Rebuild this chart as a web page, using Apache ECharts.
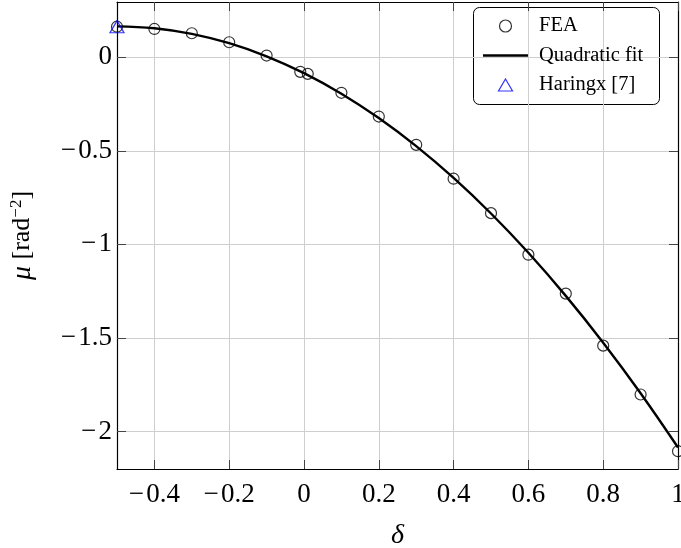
<!DOCTYPE html>
<html>
<head>
<meta charset="utf-8">
<script src="https://cdn.jsdelivr.net/npm/echarts@6/dist/echarts.min.js"></script>
<style>
  html, body { margin: 0; padding: 0; background: #fff; }
  #chart { width: 681px; height: 548px; }
</style>
</head>
<body>
<div id="chart"></div>
<script>
// FEA points
const feaX = [-0.5, -0.4, -0.3, -0.2, -0.1, -0.01, 0.01, 0.1, 0.2, 0.3, 0.4, 0.5, 0.6, 0.7, 0.8, 0.9, 1.0]
const feaMu = [0.163, 0.151, 0.128, 0.080, 0.009, -0.078, -0.089, -0.190, -0.317, -0.468, -0.649, -0.833, -1.055, -1.263, -1.541, -1.802, -2.105]

// quadratic fit
const fitX = [-0.5, -0.4, -0.3, -0.2, -0.1, 0, 0.1, 0.2, 0.3, 0.4, 0.5, 0.6, 0.7, 0.8, 0.9, 1.0]
const fitMu = [0.165, 0.155, 0.125, 0.075, 0.005, -0.085, -0.195, -0.325, -0.475, -0.645, -0.835, -1.045, -1.275, -1.525, -1.795, -2.085]

// Haringx [7]
const harX = [-0.5]
const harMu = [0.163]

const xTicks = [-0.4, -0.2, 0, 0.2, 0.4, 0.6, 0.8, 1]
const yTicks = [-2, -1.5, -1, -0.5, 0]

const serif = '"Liberation Serif", "DejaVu Serif", serif'
const fmt = (v) => v < 0 ? '\u2212\u200a' + String(-v) : String(v)

const zip = (xs, ys) => xs.map((x, i) => [x, ys[i]])

var chart = echarts.init(document.getElementById('chart'))

const tick = { show: true, inside: true, length: 9, lineStyle: { color: '#444', width: 1 } }
const frame = { show: true, onZero: false, lineStyle: { color: '#000', width: 1.2 } }

var option = {
  animation: false,
  grid: { left: 117, right: 3, top: 2, bottom: 79, outerBoundsMode: 'none', containLabel: false },
  xAxis: [
    {
      type: 'value', min: -0.5, max: 1, position: 'bottom',
      axisLine: frame,
      axisTick: Object.assign({ customValues: xTicks }, tick),
      splitLine: { show: true, lineStyle: { color: '#cfcfcf', width: 1 } },
      axisLabel: { customValues: xTicks, formatter: fmt, margin: 12, color: '#000', fontFamily: serif, fontSize: 27 },
      name: 'δ', nameLocation: 'middle', nameGap: 53,
      nameTextStyle: { fontFamily: serif, fontStyle: 'italic', fontSize: 28, color: '#000' }
    },
    {
      type: 'value', min: -0.5, max: 1, position: 'top',
      axisLine: frame,
      axisTick: Object.assign({ customValues: xTicks }, tick),
      axisLabel: { show: false }, splitLine: { show: false }
    }
  ],
  yAxis: [
    {
      type: 'value', min: -2.2, max: 0.295, position: 'left',
      axisLine: frame,
      axisTick: Object.assign({ customValues: yTicks }, tick),
      splitLine: { show: true, lineStyle: { color: '#cfcfcf', width: 1 } },
      axisLabel: { customValues: yTicks, formatter: fmt, margin: 5, color: '#000', fontFamily: serif, fontSize: 27 },
      name: '{i|μ} [rad{s|\u22122}]', nameLocation: 'middle', nameGap: 80,
      nameTextStyle: {
        fontFamily: serif, fontSize: 26, color: '#000',
        rich: {
          i: { fontFamily: serif, fontStyle: 'italic', fontSize: 28, color: '#000' },
          s: { fontFamily: serif, fontSize: 17, color: '#000', verticalAlign: 'top', padding: [0, 0, 12, 0] }
        }
      }
    },
    {
      type: 'value', min: -2.2, max: 0.295, position: 'right',
      axisLine: frame,
      axisTick: Object.assign({ customValues: yTicks }, tick),
      axisLabel: { show: false }, splitLine: { show: false }
    }
  ],
  legend: {
    orient: 'vertical', left: 483, top: 15, padding: 0,
    itemWidth: 45, itemHeight: 12, itemGap: 7.5,
    textStyle: { fontFamily: serif, fontSize: 20.5, lineHeight: 22, color: '#000', padding: [0, 0, 0, 6] },
    data: [
      { name: 'FEA', icon: 'circle', itemStyle: { color: 'transparent', borderColor: '#000', borderWidth: 1.2 } },
      { name: 'Quadratic fit', icon: 'path://M0,0 H45 V2.4 H0 Z', itemStyle: { color: '#000', borderWidth: 0 } },
      { name: 'Haringx [7]', icon: 'path://M7,0 L14,12 L0,12 Z', itemStyle: { color: 'transparent', borderColor: '#0000ff', borderWidth: 1.2 } }
    ]
  },
  graphic: [
    {
      type: 'rect', left: 473, top: 7, z: 0,
      shape: { width: 186, height: 97, r: 6 },
      style: { fill: '#fff', stroke: '#000', lineWidth: 1 }
    }
  ],
  series: [
    {
      name: 'FEA', type: 'scatter', data: zip(feaX, feaMu),
      symbol: 'circle', symbolSize: 11, clip: false,
      itemStyle: { color: 'transparent', borderColor: '#000', borderWidth: 1.2 },
      z: 2
    },
    {
      name: 'Quadratic fit', type: 'line', data: zip(fitX, fitMu),
      smooth: 0.4, symbol: 'none', showSymbol: false, color: '#000',
      lineStyle: { color: '#000', width: 2.4 },
      z: 3
    },
    {
      name: 'Haringx [7]', type: 'scatter', data: zip(harX, harMu),
      symbol: 'triangle', symbolSize: [14, 12], clip: false,
      itemStyle: { color: 'transparent', borderColor: '#0000ff', borderWidth: 1.2 },
      z: 4
    }
  ]
}

chart.setOption(option)
</script>
</body>
</html>
